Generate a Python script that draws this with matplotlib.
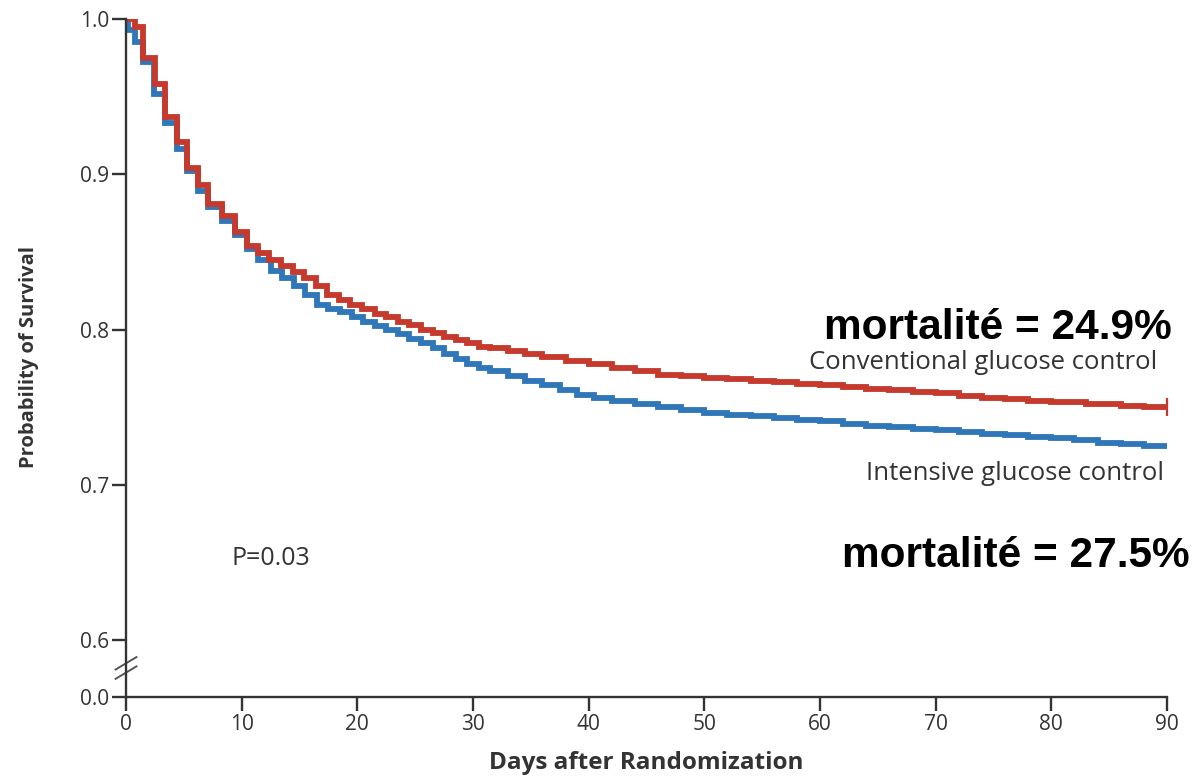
import matplotlib.pyplot as plt

# Kaplan-Meier curves (day, survival at start of step)
conv_days = [0, 0.8, 1.5, 2.5, 3.4, 4.4, 5.3, 6.2, 7.1, 8.3, 9.4, 10.5, 11.4, 12.4, 13.4,
             14.4, 15.4, 16.4, 17.4, 18.4, 19.4, 20.4, 21.5, 22.5, 23.5, 24.5, 25.5, 26.5,
             27.5, 28.5, 29.5, 30.5, 31.5, 33, 34.5, 36, 38, 40, 42, 44, 46, 48, 50, 52,
             54, 56, 58, 60, 62, 64, 66, 68, 70, 72, 74, 76, 78, 80, 83, 86, 88, 90]
conv_surv = [1.0, 0.995, 0.975, 0.958, 0.937, 0.921, 0.904, 0.893, 0.881, 0.873, 0.863,
             0.854, 0.849, 0.845, 0.841, 0.837, 0.833, 0.828, 0.822, 0.819, 0.816, 0.813,
             0.810, 0.808, 0.805, 0.803, 0.800, 0.798, 0.795, 0.793, 0.791, 0.789, 0.788,
             0.786, 0.784, 0.782, 0.780, 0.778, 0.775, 0.773, 0.771, 0.770, 0.769, 0.768,
             0.767, 0.766, 0.765, 0.764, 0.763, 0.762, 0.761, 0.760, 0.759, 0.757, 0.756,
             0.755, 0.754, 0.753, 0.752, 0.751, 0.750, 0.750]

int_days = [0, 0.2, 0.8, 1.5, 2.4, 3.4, 4.4, 5.3, 6.2, 7.1, 8.3, 9.4, 10.5, 11.4, 12.5,
            13.5, 14.5, 15.5, 16.5, 17.5, 18.5, 19.5, 20.5, 21.5, 22.5, 23.5, 24.5, 25.5,
            26.5, 27.5, 28.5, 29.5, 30.5, 31.5, 33, 34.5, 36, 37.5, 39, 40.5, 42, 44, 46,
            48, 50, 52, 54, 56, 58, 60, 62, 64, 66, 68, 70, 72, 74, 76, 78, 80, 82, 84,
            86, 88, 90]
int_surv = [1.0, 0.993, 0.985, 0.972, 0.952, 0.933, 0.916, 0.902, 0.889, 0.879, 0.870,
            0.861, 0.852, 0.845, 0.838, 0.833, 0.828, 0.822, 0.816, 0.813, 0.811, 0.808,
            0.805, 0.802, 0.800, 0.797, 0.794, 0.791, 0.788, 0.784, 0.781, 0.778, 0.775,
            0.773, 0.770, 0.767, 0.764, 0.761, 0.758, 0.756, 0.754, 0.752, 0.750, 0.748,
            0.746, 0.745, 0.744, 0.743, 0.742, 0.741, 0.739, 0.738, 0.737, 0.736, 0.735,
            0.734, 0.733, 0.732, 0.731, 0.730, 0.729, 0.727, 0.726, 0.725, 0.725]

x_ticks = [0, 10, 20, 30, 40, 50, 60, 70, 80, 90]
y_bottom = 0.5633  # broken axis: this position is labelled 0.0
y_ticks = [y_bottom, 0.6, 0.7, 0.8, 0.9, 1.0]
y_labels = ['0.0', '0.6', '0.7', '0.8', '0.9', '1.0']

red = '#c53a2c'
blue = '#2f77b9'
txt = '#333333'
sans = ['Open Sans', 'DejaVu Sans']

fig = plt.figure(figsize=(11.93, 7.77), dpi=100)
ax = fig.add_axes([126 / 1193, 1 - 697 / 777, 1041 / 1193, 678 / 777])

ax.step(int_days, int_surv, where='post', color=blue, lw=4.2, solid_joinstyle='miter')
ax.step(conv_days, conv_surv, where='post', color=red, lw=4.2, solid_joinstyle='miter')
ax.plot([conv_days[-1]], [conv_surv[-1]], marker='|', ms=13, mew=1.6, color=red, clip_on=False)

ax.set_xlim(0, 90)
ax.set_ylim(y_bottom, 1.0)
ax.set_xticks(x_ticks)
ax.set_yticks(y_ticks)
ax.set_yticklabels(y_labels)

for s in ['top', 'right']:
    ax.spines[s].set_visible(False)
for s in ['left', 'bottom']:
    ax.spines[s].set_linewidth(1.7)
    ax.spines[s].set_color('#333333')

ax.tick_params(direction='out', length=10, width=1.7, color='#333333',
               labelsize=15, labelcolor=txt, pad=2)
for lab in ax.get_xticklabels() + ax.get_yticklabels():
    lab.set_family(sans)

# break marks on y axis
for dy in [0.0, 0.006]:
    ax.plot([-0.9, 0.9], [0.575 + dy, 0.583 + dy], color='#555555', lw=1.4, clip_on=False)

ax.set_xlabel('Days after Randomization', fontsize=17.5, fontweight='bold',
              family=sans, color=txt, labelpad=12)
fig.text(29 / 1193, 1 - 357 / 777, 'Probability of Survival', rotation=90,
         ha='center', va='center', fontsize=14.5, fontweight='bold', family=sans, color=txt)

ax.text(9.1, 0.6523, 'P=0.03', fontsize=18, family=sans, color=txt, va='center')
fig.text(1157 / 1193, 1 - 363 / 777, 'Conventional glucose control', ha='right',
         va='center', fontsize=18.5, family=sans, color=txt)
fig.text(1164 / 1193, 1 - 473 / 777, 'Intensive glucose control', ha='right',
         va='center', fontsize=18.5, family=sans, color=txt)

fig.text(1172 / 1193, 1 - 328 / 777, 'mortalité = 24.9%', ha='right', va='center',
         fontsize=30.5, fontweight='bold', family=['Liberation Sans', 'DejaVu Sans'], color='black')
fig.text(1190 / 1193, 1 - 556 / 777, 'mortalité = 27.5%', ha='right', va='center',
         fontsize=30.5, fontweight='bold', family=['Liberation Sans', 'DejaVu Sans'], color='black')

fig.savefig('out.png', dpi=100)
